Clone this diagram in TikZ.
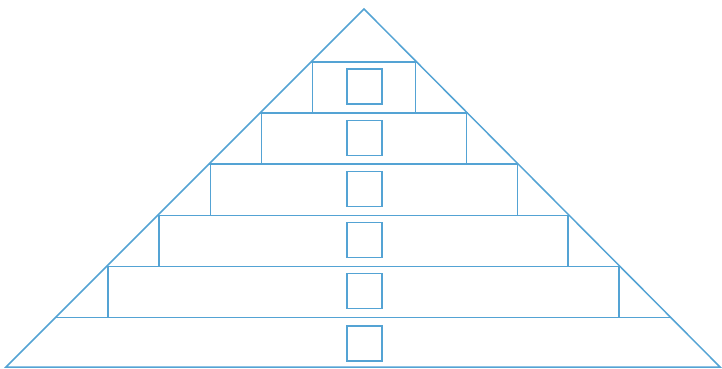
\documentclass[tikz,border=0pt]{standalone}
\usetikzlibrary{calc}
\definecolor{pyr}{RGB}{84,163,212}
\tikzset{
  pline/.style={draw=pyr, line width=1.5pt},
  sqbox/.style={draw=pyr, line width=1.1pt, minimum width=35pt, minimum height=35pt, inner sep=0pt, outer sep=0pt}
}
\begin{document}
\begin{tikzpicture}[x=1pt,y=-1pt]
\useasboundingbox (0,0) rectangle (722,369);
\coordinate (A) at (364,9);
\coordinate (L) at (6,367);
\coordinate (R) at (720,367);
\draw[pline, line join=miter] (L) -- (A) -- (R) -- cycle;
\foreach \k in {0,...,5}{
  \pgfmathsetmacro{\yy}{62+51.1*\k}
  \pgfmathsetmacro{\yn}{\yy+51.1}
  \pgfmathsetmacro{\xl}{364-(\yy-9)}
  \pgfmathsetmacro{\xr}{364+(\yy-9)*0.9944}
  \pgfmathsetmacro{\xli}{\xl+1.5}
  \pgfmathsetmacro{\xri}{\xr-1}
  \coordinate (l\k) at (\xl,\yy);
  \coordinate (r\k) at (\xr,\yy);
  \draw[pline] (l\k) -- (r\k);
  \ifnum\k<5
    \coordinate (lt\k) at (\xli,\yy);
    \coordinate (rt\k) at (\xri,\yy);
    \coordinate (lb\k) at (\xli,\yn);
    \coordinate (rb\k) at (\xri,\yn);
    \draw[pline] (lt\k) -- (lb\k);
    \draw[pline] (rt\k) -- (rb\k);
    \node[sqbox] (s\k) at (364.5,\yy+24.5) {};
  \fi
}
\node[sqbox] (s5) at (364.5,343.5) {};
\end{tikzpicture}
\end{document}
